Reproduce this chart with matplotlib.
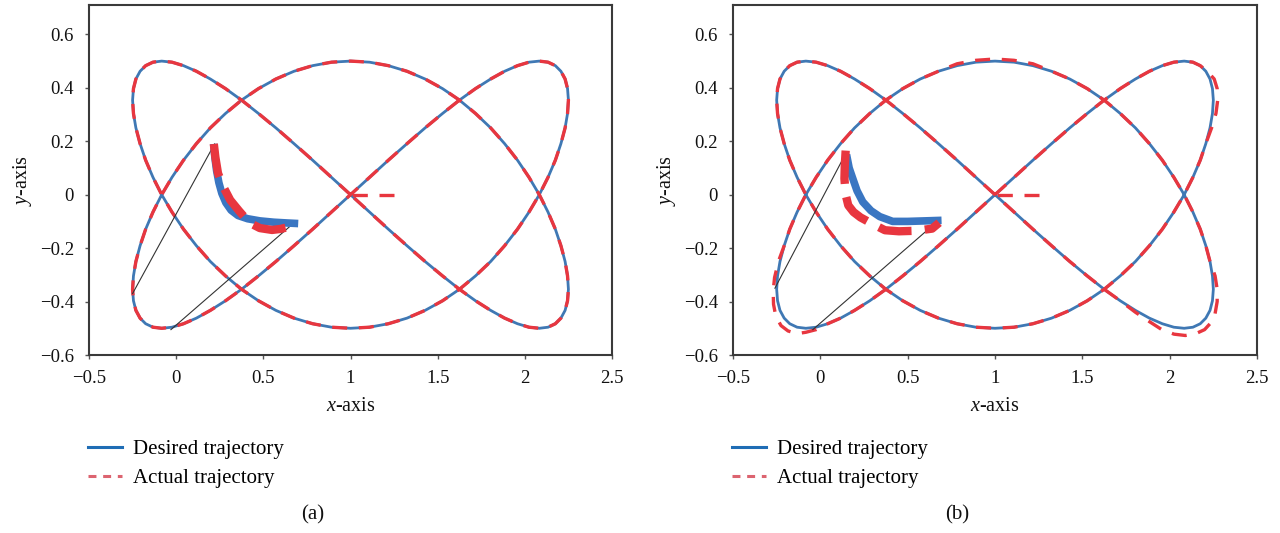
import matplotlib
matplotlib.use("Agg")
import matplotlib.pyplot as plt
from matplotlib.lines import Line2D
from matplotlib.ticker import FuncFormatter

plt.rcParams['font.family'] = ['Liberation Serif', 'DejaVu Serif']
plt.rcParams['mathtext.fontset'] = 'custom'
plt.rcParams['mathtext.it'] = 'Liberation Serif:italic'
plt.rcParams['mathtext.rm'] = 'Liberation Serif'

# desired trajectory (same in both panels)
desired_x = [
    1.000, 0.891, 0.783, 0.676, 0.572, 0.472, 0.375, 0.283, 0.196, 0.116, 0.042, -0.024,
    -0.083, -0.133, -0.175, -0.207, -0.231, -0.245, -0.250, -0.245, -0.231, -0.207, -0.175, -0.133,
    -0.083, -0.024, 0.042, 0.116, 0.196, 0.283, 0.375, 0.472, 0.572, 0.676, 0.783, 0.891,
    1.000, 1.109, 1.217, 1.324, 1.428, 1.528, 1.625, 1.717, 1.804, 1.884, 1.958, 2.024,
    2.083, 2.133, 2.175, 2.207, 2.231, 2.245, 2.250, 2.245, 2.231, 2.207, 2.175, 2.133,
    2.083, 2.024, 1.958, 1.884, 1.804, 1.717, 1.625, 1.528, 1.428, 1.324, 1.217, 1.109,
    1.000, 0.891, 0.783, 0.676, 0.572, 0.472, 0.375, 0.283, 0.196, 0.116, 0.042, -0.024,
    -0.083, -0.133, -0.175, -0.207, -0.231, -0.245, -0.250, -0.245, -0.231, -0.207, -0.175, -0.133,
    -0.083, -0.024, 0.042, 0.116, 0.196, 0.283, 0.375, 0.472, 0.572, 0.676, 0.783, 0.891,
    1.000, 1.109, 1.217, 1.324, 1.428, 1.528, 1.625, 1.717, 1.804, 1.884, 1.958, 2.024,
    2.083, 2.133, 2.175, 2.207, 2.231, 2.245, 2.250, 2.245, 2.231, 2.207, 2.175, 2.133,
    2.083, 2.024, 1.958, 1.884, 1.804, 1.717, 1.625, 1.528, 1.428, 1.324, 1.217, 1.109,
    1.000]
desired_y = [
    0.000, 0.065, 0.129, 0.191, 0.250, 0.304, 0.354, 0.397, 0.433, 0.462, 0.483, 0.496,
    0.500, 0.496, 0.483, 0.462, 0.433, 0.397, 0.354, 0.304, 0.250, 0.191, 0.129, 0.065,
    0.000, -0.065, -0.129, -0.191, -0.250, -0.304, -0.354, -0.397, -0.433, -0.462, -0.483, -0.496,
    -0.500, -0.496, -0.483, -0.462, -0.433, -0.397, -0.354, -0.304, -0.250, -0.191, -0.129, -0.065,
    0.000, 0.065, 0.129, 0.191, 0.250, 0.304, 0.354, 0.397, 0.433, 0.462, 0.483, 0.496,
    0.500, 0.496, 0.483, 0.462, 0.433, 0.397, 0.354, 0.304, 0.250, 0.191, 0.129, 0.065,
    0.000, -0.065, -0.129, -0.191, -0.250, -0.304, -0.354, -0.397, -0.433, -0.462, -0.483, -0.496,
    -0.500, -0.496, -0.483, -0.462, -0.433, -0.397, -0.354, -0.304, -0.250, -0.191, -0.129, -0.065,
    0.000, 0.065, 0.129, 0.191, 0.250, 0.304, 0.354, 0.397, 0.433, 0.462, 0.483, 0.496,
    0.500, 0.496, 0.483, 0.462, 0.433, 0.397, 0.354, 0.304, 0.250, 0.191, 0.129, 0.065,
    0.000, -0.065, -0.129, -0.191, -0.250, -0.304, -0.354, -0.397, -0.433, -0.462, -0.483, -0.496,
    -0.500, -0.496, -0.483, -0.462, -0.433, -0.397, -0.354, -0.304, -0.250, -0.191, -0.129, -0.065,
    0.000]

# (a): actual follows the desired path after the short approach from x=1.25
actual_a_x = desired_x
actual_a_y = desired_y

# (b): actual drifts out a bit at the corners
actual_b_x = [
    1.000, 0.891, 0.783, 0.676, 0.572, 0.472, 0.375, 0.283, 0.196, 0.116, 0.042, -0.024,
    -0.083, -0.133, -0.175, -0.207, -0.231, -0.245, -0.250, -0.245, -0.231, -0.207, -0.175, -0.133,
    -0.083, -0.024, 0.042, 0.116, 0.196, 0.283, 0.375, 0.472, 0.572, 0.676, 0.783, 0.891,
    1.000, 1.109, 1.217, 1.324, 1.428, 1.528, 1.625, 1.717, 1.804, 1.884, 1.958, 2.024,
    2.083, 2.133, 2.175, 2.207, 2.240, 2.265, 2.275, 2.272, 2.255, 2.215, 2.175, 2.133,
    2.083, 2.024, 1.958, 1.884, 1.804, 1.717, 1.625, 1.528, 1.428, 1.324, 1.217, 1.109,
    1.000, 0.891, 0.783, 0.676, 0.572, 0.472, 0.375, 0.283, 0.196, 0.116, 0.042, -0.024,
    -0.083, -0.135, -0.185, -0.225, -0.255, -0.268, -0.270, -0.262, -0.240, -0.207, -0.175, -0.133,
    -0.083, -0.024, 0.042, 0.116, 0.196, 0.283, 0.375, 0.472, 0.572, 0.676, 0.783, 0.891,
    1.000, 1.109, 1.217, 1.324, 1.428, 1.528, 1.625, 1.717, 1.804, 1.884, 1.958, 2.024,
    2.083, 2.133, 2.175, 2.207, 2.231, 2.260, 2.272, 2.272, 2.260, 2.235, 2.200, 2.150,
    2.090, 2.025, 1.955, 1.884, 1.804, 1.717, 1.625, 1.528, 1.428, 1.324, 1.217, 1.109,
    1.000]
actual_b_y = [
    0.000, 0.065, 0.129, 0.191, 0.250, 0.304, 0.354, 0.397, 0.433, 0.462, 0.483, 0.496,
    0.500, 0.496, 0.483, 0.462, 0.433, 0.397, 0.354, 0.304, 0.250, 0.191, 0.129, 0.065,
    0.000, -0.065, -0.129, -0.191, -0.250, -0.304, -0.354, -0.397, -0.433, -0.462, -0.483, -0.496,
    -0.500, -0.496, -0.483, -0.462, -0.433, -0.397, -0.354, -0.304, -0.250, -0.191, -0.129, -0.065,
    0.000, 0.065, 0.129, 0.191, 0.250, 0.304, 0.354, 0.397, 0.433, 0.462, 0.483, 0.496,
    0.500, 0.496, 0.483, 0.462, 0.433, 0.397, 0.354, 0.304, 0.250, 0.191, 0.129, 0.065,
    0.000, -0.065, -0.129, -0.191, -0.250, -0.304, -0.354, -0.397, -0.433, -0.462, -0.483, -0.505,
    -0.515, -0.520, -0.510, -0.490, -0.455, -0.410, -0.360, -0.310, -0.250, -0.191, -0.129, -0.065,
    0.000, 0.065, 0.129, 0.191, 0.250, 0.304, 0.354, 0.397, 0.433, 0.462, 0.490, 0.503,
    0.508, 0.503, 0.490, 0.462, 0.433, 0.397, 0.354, 0.304, 0.250, 0.191, 0.129, 0.065,
    0.000, -0.065, -0.129, -0.191, -0.250, -0.304, -0.354, -0.400, -0.445, -0.480, -0.505, -0.520,
    -0.527, -0.522, -0.505, -0.475, -0.440, -0.397, -0.354, -0.304, -0.250, -0.191, -0.129, -0.065,
    0.000]

# short approach of the actual path onto the curve
approach_x = [1.25, 1.0]
approach_y = [0.0, 0.0]

# end effector paths (thick) and the two links
tip_des_a_x = [0.215, 0.222, 0.232, 0.245, 0.262, 0.285, 0.315, 0.355, 0.410, 0.480, 0.560, 0.640, 0.700]
tip_des_a_y = [0.190, 0.140, 0.090, 0.045, 0.005, -0.030, -0.058, -0.078, -0.090, -0.098, -0.103, -0.106, -0.108]
tip_act_a_x = [0.216, 0.225, 0.240, 0.270, 0.310, 0.360, 0.420, 0.480, 0.550, 0.600, 0.650]
tip_act_a_y = [0.190, 0.140, 0.080, 0.030, -0.020, -0.060, -0.105, -0.125, -0.132, -0.128, -0.120]
links_a = [([-0.25, 0.22], [-0.37, 0.19]), ([-0.03, 0.65], [-0.505, -0.12])]

tip_des_b_x = [0.150, 0.165, 0.186, 0.210, 0.243, 0.290, 0.340, 0.414, 0.500, 0.600, 0.694]
tip_des_b_y = [0.150, 0.100, 0.060, 0.015, -0.027, -0.060, -0.082, -0.100, -0.100, -0.098, -0.096]
tip_act_b_x = [0.145, 0.140, 0.138, 0.145, 0.160, 0.190, 0.230, 0.300, 0.370, 0.450, 0.550, 0.640, 0.680]
tip_act_b_y = [0.165, 0.110, 0.060, 0.000, -0.040, -0.065, -0.085, -0.110, -0.133, -0.137, -0.135, -0.127, -0.105]
links_b = [([-0.26, 0.15], [-0.35, 0.16]), ([-0.043, 0.67], [-0.505, -0.10])]

x_ticks = [-0.5, 0, 0.5, 1, 1.5, 2, 2.5]
y_ticks = [-0.6, -0.4, -0.2, 0, 0.2, 0.4, 0.6]

BLUE = '#3f78b4'
RED = '#e8363f'


def fmt(v, pos):
    return ('%g' % v).replace('-', '\u2212')


def draw(ax, ax_, ay_, tdx, tdy, tax, tay, links):
    ax.plot(desired_x, desired_y, color=BLUE, lw=2.0, zorder=2)
    ax.plot(ax_, ay_, color=RED, lw=2.4, dashes=(4.5, 3.5), zorder=3)
    ax.plot(approach_x, approach_y, color=RED, lw=2.4, dashes=(4.5, 3.5), zorder=3)
    for lx, ly in links:
        ax.plot(lx, ly, color='#333333', lw=0.8, zorder=4)
    ax.plot(tdx, tdy, color='#3a76c2', lw=5.5, solid_capstyle='butt', zorder=5)
    ax.plot(tax, tay, color=RED, lw=6, dashes=(4, 1.6), zorder=6)

    ax.set_xlim(-0.5, 2.5)
    ax.set_ylim(-0.6, 0.71)
    ax.set_xticks(x_ticks)
    ax.set_yticks(y_ticks)
    ax.xaxis.set_major_formatter(FuncFormatter(fmt))
    ax.yaxis.set_major_formatter(FuncFormatter(fmt))
    ax.tick_params(direction='out', length=3, width=1, color='#555555',
                   labelsize=13.5, pad=8, labelcolor='#111111')
    for s in ax.spines.values():
        s.set_linewidth(1.5)
        s.set_color('#3a3a3a')
    ax.set_xlabel(r'$\mathit{x}$-axis', fontsize=14.5, labelpad=7, color='#111111')
    ax.set_ylabel(r'$\mathit{y}$-axis', fontsize=14.5, labelpad=4, color='#111111')


fig = plt.figure(figsize=(12.8, 5.33), dpi=100)
ax1 = fig.add_axes([89 / 1280, 1 - 355 / 533, 523 / 1280, 350 / 533])
ax2 = fig.add_axes([733 / 1280, 1 - 355 / 533, 524 / 1280, 350 / 533])

draw(ax1, actual_a_x, actual_a_y, tip_des_a_x, tip_des_a_y, tip_act_a_x, tip_act_a_y, links_a)
draw(ax2, actual_b_x, actual_b_y, tip_des_b_x, tip_des_b_y, tip_act_b_x, tip_act_b_y, links_b)

handles = [Line2D([], [], color='#1f6db5', lw=2.2),
           Line2D([], [], color='#dc6470', lw=2.2, dashes=(2.6, 2.2))]
labels = ['Desired trajectory', 'Actual trajectory']
for x0, tag, xt in [(88, '(a)', 313), (732, '(b)', 957)]:
    fig.legend(handles, labels, loc='center left', bbox_to_anchor=(x0 / 1280, 1 - 464 / 533),
               frameon=False, fontsize=15, handlelength=1.65, handletextpad=0.5,
               labelspacing=0.45, borderpad=0, borderaxespad=0)
    fig.text(xt / 1280, 1 - 515 / 533, tag, ha='center', va='center', fontsize=15, color='#111111')

fig.savefig('out.png', dpi=100)
